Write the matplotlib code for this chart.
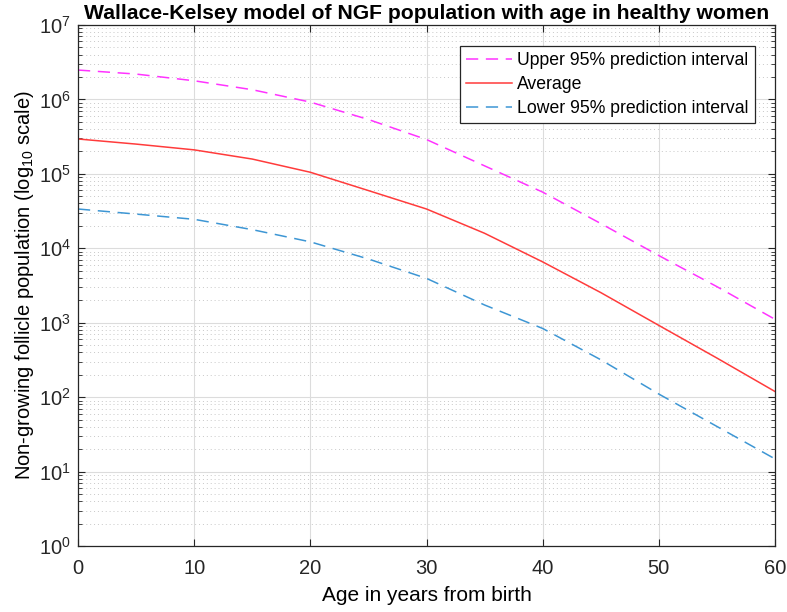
import matplotlib
matplotlib.use("Agg")
import matplotlib.pyplot as plt
from matplotlib.ticker import NullFormatter

plt.rcParams['font.family'] = ['Liberation Sans', 'DejaVu Sans']
plt.rcParams['mathtext.fontset'] = 'custom'
plt.rcParams['mathtext.rm'] = 'Liberation Sans'
plt.rcParams['mathtext.it'] = 'Liberation Sans:italic'

# values (ages every 5 years)
age = [0, 5, 10, 15, 20, 25, 30, 35, 40, 45, 50, 55, 60]
upper = [2.48e6, 2.19e6, 1.78e6, 1.35e6, 9.2e5, 5.37e5, 2.89e5, 1.28e5,
         5.68e4, 2.15e4, 7.98e3, 3.05e3, 1.11e3]
average = [2.94e5, 2.51e5, 2.10e5, 1.58e5, 1.05e5, 5.96e4, 3.37e4, 1.59e4,
           6.56e3, 2.54e3, 9.2e2, 3.35e2, 1.19e2]
lower = [3.37e4, 2.88e4, 2.45e4, 1.78e4, 1.22e4, 7.18e3, 3.94e3, 1.73e3,
         8.37e2, 3.18e2, 1.10e2, 4.04e1, 1.48e1]

labels = ["Upper 95% prediction interval", "Average", "Lower 95% prediction interval"]
x_ticks = [0, 10, 20, 30, 40, 50, 60]
y_decades = [1e0, 1e1, 1e2, 1e3, 1e4, 1e5, 1e6, 1e7]
y_labels = ["$10^{%d}$" % k for k in range(8)]

fig = plt.figure(figsize=(7.87, 6.12), dpi=100)
ax = fig.add_axes([0.0991, 0.1078, 0.8857, 0.8514])

ax.plot(age, upper, color='#ff33ff', lw=1.1, dashes=(8, 5), label=labels[0])
ax.plot(age, average, color='#ff3b3b', lw=1.1, label=labels[1])
ax.plot(age, lower, color='#3d96d4', lw=1.1, dashes=(8, 5), label=labels[2])

ax.set_yscale('log')
ax.set_xlim(0, 60)
ax.set_ylim(1, 1e7)
ax.set_xticks(x_ticks)
ax.set_yticks(y_decades, y_labels)
minor = [m * d for d in y_decades[:-1] for m in range(2, 10)]
ax.set_yticks(minor, minor=True)
ax.yaxis.set_minor_formatter(NullFormatter())

ax.grid(True, which='major', color='#dcdcdc', lw=0.8)
ax.grid(True, which='minor', axis='y', color='#c8c8c8', lw=0.7, linestyle=(0, (1, 3)))
ax.set_axisbelow(True)

for s in ax.spines.values():
    s.set_color('#262626')
    s.set_linewidth(0.9)
ax.tick_params(which='both', direction='in', top=True, right=True,
               colors='#262626', labelsize=14.5)
ax.tick_params(axis='x', pad=9)
ax.tick_params(axis='y', pad=5)
ax.tick_params(which='major', length=5)
ax.tick_params(which='minor', length=3)

ax.set_title("Wallace-Kelsey model of NGF population with age in healthy women",
             fontsize=15.2, fontweight='bold', pad=4)
ax.set_xlabel("Age in years from birth", fontsize=15, labelpad=6)
ax.set_ylabel("Non-growing follicle population (log$_{10}$ scale)", fontsize=14.5, labelpad=2)

leg = ax.legend(loc='upper right', bbox_to_anchor=(0.971, 0.960), borderaxespad=0,
                fontsize=12.7, fancybox=False, framealpha=1, edgecolor='#262626',
                handlelength=2.6, borderpad=0.35, labelspacing=0.4, handletextpad=0.3)
leg.get_frame().set_linewidth(0.9)

fig.savefig("out.png", dpi=100)
